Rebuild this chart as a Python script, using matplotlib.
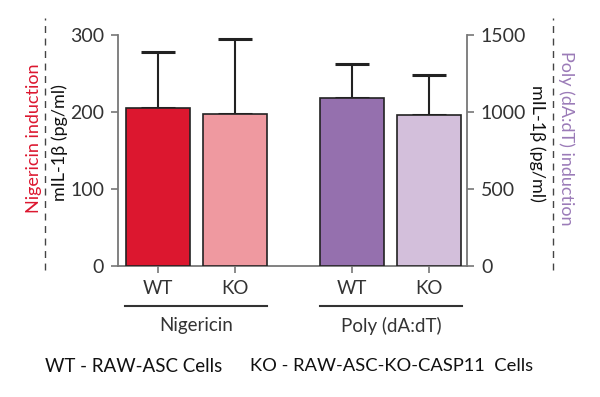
import matplotlib
matplotlib.use("Agg")
import matplotlib.pyplot as plt
from matplotlib.lines import Line2D

plt.rcParams['font.family'] = ['Lato', 'DejaVu Sans']

# Data
categories = ["WT", "KO", "WT", "KO"]
groups = ["Nigericin", "Poly (dA:dT)"]
nig_values = [205, 197]
nig_err = [73, 98]
poly_values = [1092, 980]
poly_err = [220, 260]
colors_nig = ["#dc172f", "#ef99a0"]
colors_poly = ["#9570ae", "#d3bfdb"]

W, H = 600, 397
fig = plt.figure(figsize=(W / 100, H / 100), dpi=100)

x0, x1 = 118, 467
y0, y1 = 266, 35
ax = fig.add_axes([x0 / W, 1 - y0 / H, (x1 - x0) / W, (y0 - y1) / H])
ax2 = ax.twinx()

pos_nig = [0, 1]
pos_poly = [2.52, 3.52]
bw = 0.83
ax.set_xlim(-0.52, 4.01)
ax.set_ylim(0, 300)
ax2.set_ylim(0, 1500)

ax.bar(pos_nig, nig_values, width=bw, color=colors_nig, edgecolor="#222222", linewidth=1.2, zorder=3)
ax.errorbar(pos_nig, nig_values, yerr=[[0, 0], nig_err], fmt="none", ecolor="#222222",
            elinewidth=1.5, capsize=12, capthick=2.2, zorder=2)
ax2.bar(pos_poly, poly_values, width=bw, color=colors_poly, edgecolor="#222222", linewidth=1.2, zorder=3)
ax2.errorbar(pos_poly, poly_values, yerr=[[0, 0], poly_err], fmt="none", ecolor="#222222",
             elinewidth=1.5, capsize=12, capthick=2.2, zorder=2)

spine_c = "#777777"
for a in (ax, ax2):
    for s in a.spines.values():
        s.set_color(spine_c)
        s.set_linewidth(1.3)
    a.spines["top"].set_visible(False)
ax.spines["right"].set_visible(False)
ax2.spines["left"].set_visible(False)
ax2.spines["bottom"].set_visible(False)

ax.set_yticks([0, 100, 200, 300])
ax2.set_yticks([0, 500, 1000, 1500])
ax.set_xticks(pos_nig + pos_poly)
ax.set_xticklabels(categories)
ax.tick_params(axis="y", colors=spine_c, labelcolor="#333333", labelsize=14, length=5, width=1.2, pad=5)
ax2.tick_params(axis="y", colors=spine_c, labelcolor="#333333", labelsize=14, length=5, width=1.2, pad=5)
ax.tick_params(axis="x", colors=spine_c, labelcolor="#333333", labelsize=13.5, length=5, width=1.2, pad=5)

# Axis labels
fig.text(60 / W, 1 - 143 / H, "mIL-1β (pg/ml)", rotation=90, ha="center", va="center", fontsize=13, color="#111111")
fig.text(537 / W, 1 - 143 / H, "mIL-1β (pg/ml)", rotation=270, ha="center", va="center", fontsize=13, color="#111111")
fig.text(34 / W, 1 - 138 / H, "Nigericin induction", rotation=90, ha="center", va="center", fontsize=13, color="#dc172f")
fig.text(566 / W, 1 - 138 / H, "Poly (dA:dT) induction", rotation=270, ha="center", va="center", fontsize=13, color="#9b7bb8")

# Dashed side lines
for xp in (45, 553):
    fig.add_artist(Line2D([xp / W, xp / W], [1 - 270 / H, 1 - 18 / H], transform=fig.transFigure,
                          color="#444444", linestyle=(0, (5, 4)), linewidth=1))

# Group underlines and labels
for (xa, xb), g in zip([(125, 267), (320, 462)], groups):
    fig.add_artist(Line2D([xa / W, xb / W], [1 - 306 / H, 1 - 306 / H], transform=fig.transFigure,
                          color="#333333", linewidth=1.5))
    fig.text((xa + xb) / 2 / W, 1 - 326 / H, g, ha="center", va="center", fontsize=13.5, color="#333333")

fig.text(45 / W, 1 - 366 / H, "WT - RAW-ASC Cells", ha="left", va="center", fontsize=13.5, color="#111111")
fig.text(250 / W, 1 - 366 / H, "KO - RAW-ASC-KO-CASP11  Cells", ha="left", va="center", fontsize=13.2, color="#111111")

fig.savefig("out.png", dpi=100)
